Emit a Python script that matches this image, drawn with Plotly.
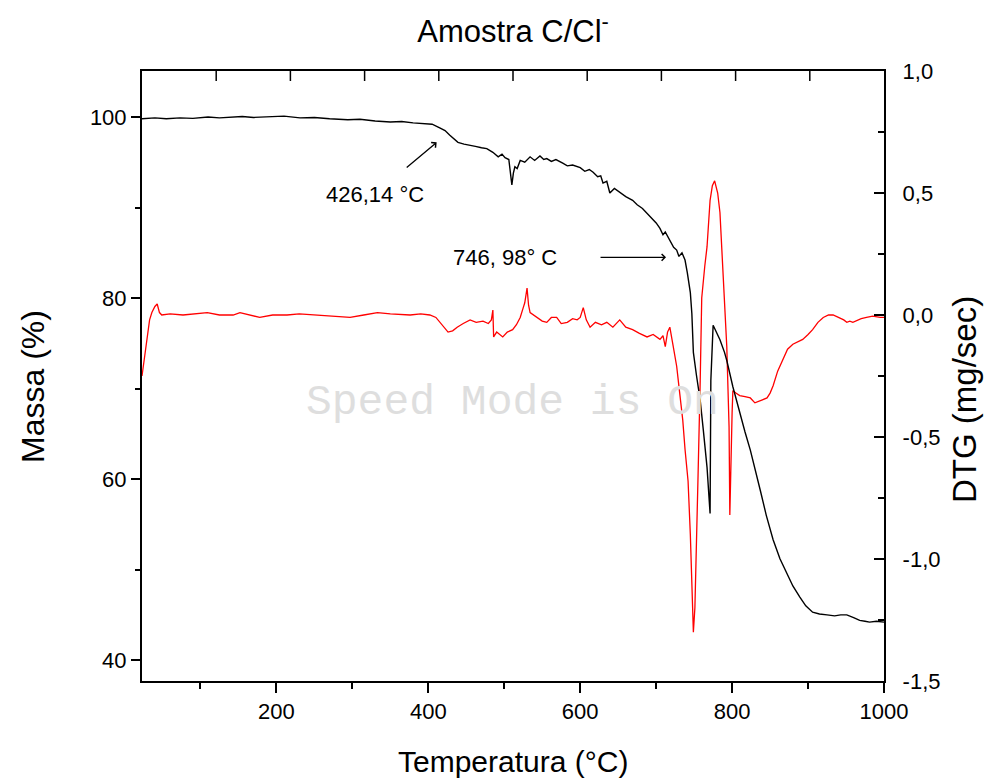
import plotly.graph_objects as go

# ---- data ----
temp_tg = [23, 40, 55, 73, 90, 110, 125, 139, 155, 170, 194, 210, 231, 250, 270, 294, 310, 330, 350, 365,
           380, 396, 405, 415, 422, 428, 433, 439, 447, 455, 462, 470, 477, 485, 492, 497, 501, 506, 508, 510,
           512, 514, 517, 521, 527, 534, 540, 547, 552, 556, 562, 568, 577, 583, 590, 600, 606, 612, 617, 623,
           627, 630, 635, 639, 645, 652, 660, 669, 675, 682, 688, 695, 700, 705, 709, 712, 718, 723, 727, 730,
           734, 738, 741, 745, 747, 749, 753, 758, 762, 767, 771, 772, 775, 780, 784, 790, 793, 801, 810, 817,
           824, 830, 837, 845, 854, 863, 872, 880, 889, 897, 906, 915, 925, 935, 943, 951, 960, 968, 975, 981,
           990, 1000]
massa = [99.8, 99.9, 99.8, 99.9, 99.85, 100.0, 99.9, 100.0, 100.05, 99.95, 100.0, 100.1, 99.9, 99.95, 99.8,
         99.7, 99.75, 99.55, 99.45, 99.5, 99.35, 99.3, 99.2, 98.8, 98.5, 98.0, 97.6, 97.2, 97.0, 96.9,
         96.75, 96.6, 96.5, 96.1, 95.6, 95.9, 95.5, 95.3, 94.0, 92.5, 93.8, 94.5, 94.3, 95.2, 95.0,
         95.6, 95.2, 95.7, 95.3, 95.4, 95.1, 95.3, 94.9, 94.6, 94.7, 94.4, 94.0, 94.2, 93.9, 93.4,
         93.5, 92.7, 92.9, 91.6, 92.1, 91.7, 91.2, 90.8, 90.3, 89.9, 89.4, 88.8, 88.3, 87.7, 87.0,
         87.3, 86.4, 85.6, 85.3, 84.6, 85.0, 84.2, 82.8, 80.6, 78.3, 74.0, 71.5, 68.7, 65.5, 61.3,
         56.2, 70.9, 77.0, 76.2, 75.4, 74.0, 73.1, 70.2, 67.3, 65.2, 63.2, 61.0, 58.8, 56.0, 53.3,
         51.2, 49.6, 48.2, 47.0, 46.0, 45.3, 45.1, 45.0, 44.9, 45.0, 45.0, 44.7, 44.4, 44.3, 44.2,
         44.3, 44.2]

temp_dtg = [23, 27, 30, 33, 36, 40, 43, 46, 49, 60, 77, 92, 109, 125, 143, 152, 165, 178, 195, 214,
            230, 253, 270, 297, 315, 333, 350, 376, 390, 402, 410, 415, 420, 426, 432, 438, 446, 455, 463, 472,
            479, 483, 485, 486, 490, 494, 498, 504, 511, 516, 521, 525, 527, 530, 532, 534, 539, 544, 550, 556,
            562, 569, 575, 583, 590, 596, 600, 604, 608, 613, 620, 628, 635, 643, 652, 660, 669, 678, 688, 696,
            705, 709, 712, 715, 718, 722, 727, 731, 735, 738, 742, 745, 747, 749, 751, 752, 755, 758, 760, 764,
            767, 771, 774, 777, 781, 784, 787, 790, 793, 796, 797, 800, 801, 805, 810, 817, 824, 830, 837, 842,
            846, 850, 854, 860, 867, 873, 880, 886, 893, 900, 906, 913, 920, 927, 933, 940, 947, 951, 955, 959,
            965, 970, 977, 985, 995, 1000]
dtg = [-0.25, -0.16, -0.09, -0.02, 0.01, 0.035, 0.045, 0.01, 0.0, 0.005, 0.0, 0.005, 0.01, 0.0, 0.0, 0.01,
       0.0, -0.01, 0.0, 0.0, 0.005, 0.0, -0.005, -0.01, 0.0, 0.01, 0.005, 0.0, 0.005, 0.0, -0.01, -0.03,
       -0.05, -0.07, -0.065, -0.05, -0.035, -0.02, -0.03, -0.025, -0.035, -0.02, 0.02, -0.09, -0.07, -0.08,
       -0.09, -0.07, -0.06, -0.04, -0.01, 0.03, 0.05, 0.11, 0.04, 0.01, 0.0, -0.01, -0.025, -0.03, -0.01,
       -0.01, -0.035, -0.03, -0.015, -0.02, -0.01, 0.03, -0.02, -0.05, -0.03, -0.04, -0.03, -0.05, -0.02,
       -0.05, -0.06, -0.075, -0.09, -0.08, -0.1, -0.085, -0.13, -0.07, -0.05, -0.12, -0.21, -0.32, -0.43,
       -0.55, -0.68, -0.9, -1.09, -1.30, -1.2, -1.09, -0.68, -0.27, 0.07, 0.2, 0.28, 0.47, 0.53, 0.55, 0.5,
       0.42, 0.25, 0.07, -0.13, -0.46, -0.82, -0.40, -0.31, -0.32, -0.33, -0.335, -0.34, -0.36, -0.35,
       -0.345, -0.34, -0.32, -0.29, -0.23, -0.18, -0.14, -0.12, -0.11, -0.1, -0.08, -0.06, -0.03, -0.01,
       0.0, 0.0, -0.01, -0.02, -0.03, -0.025, -0.03, -0.02, -0.015, -0.01, -0.005, -0.01, -0.01]

dtg_tickvals = [-1.5, -1.0, -0.5, 0.0, 0.5, 1.0]
dtg_ticktext = ["\u00a0\u00a0-1,5", "\u00a0\u00a0-1,0", "\u00a0\u00a0-0,5",
                "\u00a0\u00a00,0", "\u00a0\u00a00,5", "\u00a0\u00a01,0"]
massa_tickvals = [40, 60, 80, 100]
temp_tickvals = [200, 400, 600, 800, 1000]
top_divisions = 10                        # top edge of the frame carries ten equal divisions

FONT = "Liberation Sans, Arial, sans-serif"

fig = go.Figure()
fig.add_trace(go.Scatter(x=temp_dtg, y=dtg, mode="lines", line=dict(color="#ff0000", width=1.3),
                         xaxis="x", yaxis="y", showlegend=False, name="DTG"))
fig.add_trace(go.Scatter(x=temp_tg, y=massa, mode="lines", line=dict(color="#000000", width=1.4),
                         xaxis="x", yaxis="y2", showlegend=False, name="Massa"))

# decorative inward ticks on the top frame edge
top_ticks = [dict(type="line", xref="paper", yref="paper", x0=k / top_divisions, x1=k / top_divisions,
                  y0=1, y1=1 - 10 / 610, line=dict(color="black", width=1.5), layer="above")
             for k in range(1, top_divisions)]

fig.update_layout(
    width=986, height=778,
    margin=dict(l=142, r=102, t=71, b=97),
    paper_bgcolor="white", plot_bgcolor="white",
    separators=",.",
    font=dict(family=FONT, color="black", size=22),
    title=dict(text="Amostra C/Cl<sup>-</sup>", x=0.5, xref="paper", xanchor="center",
               y=1 - 31 / 778, yref="container", yanchor="middle",
               font=dict(family=FONT, size=31, color="black")),
    xaxis=dict(range=[23, 1000], tickvals=temp_tickvals, ticks="outside", ticklen=10, tickwidth=1.5,
               showline=True, linecolor="black", linewidth=2, mirror=True, showgrid=False, zeroline=False,
               minor=dict(tickvals=[100, 300, 500, 700, 900], ticks="outside", ticklen=6, tickwidth=1.5,
                          tickcolor="black"),
               tickcolor="black", anchor="y"),
    yaxis=dict(range=[-1.5, 1.0], side="right", tickvals=dtg_tickvals, ticktext=dtg_ticktext,
               ticks="inside", ticklen=10, tickwidth=1.5, tickcolor="black",
               minor=dict(dtick=0.25, tick0=0, ticks="inside", ticklen=6, tickwidth=1.5, tickcolor="black"),
               showline=True, linecolor="black", linewidth=2, showgrid=False, zeroline=False),
    yaxis2=dict(range=[37.7, 105.08], side="left", overlaying="y", tickvals=massa_tickvals,
                ticks="outside", ticklen=9, tickwidth=1.5, tickcolor="black", ticksuffix="\u00a0",
                minor=dict(tickvals=[50, 70, 90], ticks="outside", ticklen=5, tickwidth=1.5,
                           tickcolor="black"),
                showline=True, linecolor="black", linewidth=2, showgrid=False, zeroline=False),
    shapes=top_ticks,
    annotations=[
        # axis titles
        dict(x=0.5, y=(681 - 761) / 610, xref="paper", yref="paper", xanchor="center", yanchor="middle",
             text="Temperatura (°C)", showarrow=False, font=dict(family=FONT, size=30, color="black")),
        dict(x=(33 - 142) / 742, y=(681 - 387) / 610, xref="paper", yref="paper", xanchor="center",
             yanchor="middle", text="Massa (%)", textangle=-90, showarrow=False,
             font=dict(family=FONT, size=32, color="black")),
        dict(x=(964 - 142) / 742, y=(681 - 400) / 610, xref="paper", yref="paper", xanchor="center",
             yanchor="middle", text="DTG (mg/sec)", textangle=-90, showarrow=False,
             font=dict(family=FONT, size=33, color="black")),
        # labelled arrows
        dict(x=411, y=97.2, xref="x", yref="y2", text="426,14 °C", showarrow=True, ax=-62, ay=52,
             startstandoff=20, arrowhead=4, arrowsize=1, arrowwidth=1.3, arrowcolor="black",
             font=dict(family=FONT, size=22, color="black")),
        dict(x=713, y=84.5, xref="x", yref="y2", text="746, 98° C", showarrow=True, ax=-161, ay=0,
             startstandoff=42, arrowhead=4, arrowsize=1, arrowwidth=1.3, arrowcolor="black",
             font=dict(family=FONT, size=22, color="black")),
        dict(x=0.499, y=0.457, xref="paper", yref="paper", xanchor="center", yanchor="middle",
             text="Speed Mode is On", showarrow=False,
             font=dict(family="Liberation Mono, Courier New, monospace", size=43, color="#dedede")),
    ],
)

fig.write_html("out.html")
